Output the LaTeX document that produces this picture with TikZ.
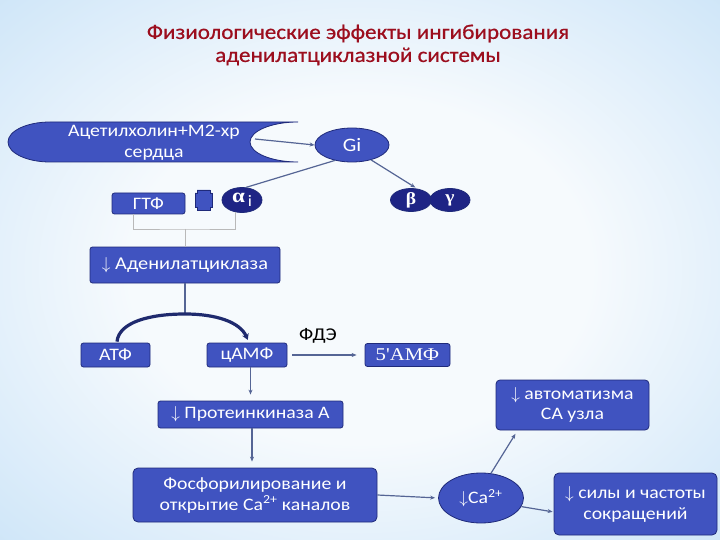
\documentclass[tikz,border=0pt]{standalone}
\usepackage{fontspec}
\setmainfont{Carlito}[FakeStretch=1.13]
\newfontfamily\titlef{Carlito}[FakeStretch=1.1, FakeBold=0.6]
\newfontfamily\serf{Liberation Serif}[FakeStretch=1.15]
\usetikzlibrary{shapes.geometric,arrows.meta,calc}
\definecolor{boxc}{HTML}{4053C0}
\definecolor{bordc}{HTML}{1F2A7A}
\definecolor{navyc}{HTML}{1E2485}
\definecolor{connc}{HTML}{556595}
\definecolor{arcc}{HTML}{1F2A6E}
\definecolor{titlec}{HTML}{9C0E1E}
\definecolor{bgc}{HTML}{F6FAFD}
\definecolor{bge}{HTML}{A3CFF3}
\pgfdeclareradialshading{bgshade}{\pgfpoint{0bp}{0bp}}{color(0bp)=(bgc);color(16bp)=(bgc);color(58bp)=(bge);color(75bp)=(bge)}
\tikzset{
  fillbox/.style={draw=bordc, fill=boxc, line width=0.8pt, rounded corners=2.5pt, inner sep=0pt,
    text=white, align=center, font=\fontsize{17.5}{20}\selectfont},
  ovalbox/.style={ellipse, draw=bordc, fill=boxc, line width=0.8pt, inner sep=0pt,
    text=white, align=center, font=\fontsize{17.5}{20}\selectfont},
  navyoval/.style={ellipse, draw=bordc, fill=navyc, line width=0.8pt, inner sep=0pt,
    text=white, align=center},
  txt/.style={inner sep=0pt, text=white, align=center, font=\fontsize{17.5}{21}\selectfont},
  conn/.style={draw=connc, line width=1.2pt, -{Stealth[length=5pt,width=4pt]}},
  plainconn/.style={draw=connc, line width=1.2pt},
  bracketline/.style={draw=gray!55, line width=0.9pt},
  thickarc/.style={draw=arcc, line width=3.2pt, -{Stealth[length=6pt,width=7pt]}},
}
\begin{document}
\begin{tikzpicture}[x=1pt,y=-1pt]
\useasboundingbox (0,0) rectangle (720,540);
\shade[shading=bgshade] (0,0) rectangle (720,540);

% title
\node[text=titlec, align=center, font=\titlef\fontsize{21}{23}\selectfont] (title) at (358,45)
  {Физиологические эффекты ингибирования\\аденилатциклазной системы};

% acetylcholine shape
\filldraw[fill=boxc, draw=bordc, line width=0.8pt]
  (50,122) -- (298,122) .. controls (271.5,122) and (250,131) .. (250,142)
  .. controls (250,153) and (271.5,162) .. (298,162) -- (50,162)
  .. controls (26.8,162) and (8,153) .. (8,142)
  .. controls (8,131) and (26.8,122) .. (50,122) -- cycle;
\node[txt] (ach) at (154,143) {Ацетилхолин+М2-хр\\сердца};
\coordinate (achR) at (255,139);

% G-protein
\node[ovalbox, minimum width=74pt, minimum height=34pt, font=\fontsize{19}{20}\selectfont] (gi) at (352,145) {Gi};
\node[navyoval, minimum width=40pt, minimum height=25pt, font=\fontsize{18}{20}\selectfont] (ai) at (242,200)
  {{\serf\bfseries\fontsize{20}{20}\selectfont α}\,\raisebox{-4pt}{\fontsize{16}{16}\selectfont i}};
\node[navyoval, minimum width=41pt, minimum height=23pt, font=\serf\bfseries\fontsize{17}{17}\selectfont] (b) at (411,200) {β};
\node[navyoval, minimum width=40pt, minimum height=23pt, font=\serf\bfseries\fontsize{17}{17}\selectfont] (g) at (450,200) {γ};
\node[fillbox, minimum width=73pt, minimum height=21pt] (gtf) at (148.5,203.5) {ГТФ};
\filldraw[fill=boxc, draw=bordc, line width=0.7pt]
  (197,190) -- (210,190) -- (210,193) -- (212,193) -- (212,207) -- (210,207) -- (210,210)
  -- (197,210) -- (197,207) -- (195,207) -- (195,193) -- (197,193) -- cycle;

% adenylate cyclase chain
\node[fillbox, minimum width=190pt, minimum height=36pt, font=\fontsize{18}{20}\selectfont] (adc) at (185,265) {$\downarrow$ Аденилатциклаза};
\node[fillbox, minimum width=69pt, minimum height=24pt] (atf) at (115.5,355) {АТФ};
\node[fillbox, minimum width=80pt, minimum height=24pt] (camp) at (247,355) {цАМФ};
\node[fillbox, minimum width=85pt, minimum height=23pt, font=\serf\fontsize{18}{20}\selectfont] (amp) at (407.5,355) {5'АМФ};
\node[inner sep=0pt, font=\fontsize{18}{20}\selectfont] (fde) at (318,336) {ФДЭ};
\node[fillbox, minimum width=185pt, minimum height=27pt] (pka) at (250.5,414.5) {$\downarrow$ Протеинкиназа А};
\node[fillbox, minimum width=244pt, minimum height=54pt, rounded corners=5pt, font=\fontsize{17.5}{21}\selectfont] (phos) at (255,495)
  {Фосфорилирование и\\открытие Ca\textsuperscript{2+} каналов};
\node[ovalbox, minimum width=85pt, minimum height=50pt] (ca) at (481,498) {$\downarrow$Ca\textsuperscript{2+}};
\node[fillbox, minimum width=153pt, minimum height=50pt, rounded corners=4pt] (avt) at (572.5,405)
  {$\downarrow$ автоматизма\\СА узла};
\node[fillbox, minimum width=163pt, minimum height=62pt, rounded corners=5pt, font=\fontsize{17.5}{21}\selectfont] (sil) at (635.5,504)
  {$\downarrow$ силы и частоты\\сокращений};

% bracket
\coordinate (brm) at (185,229);
\draw[bracketline] ($(gtf.south)+(-15.5,0)$) |- (brm) -| ($(ai.south)+(-7,-0.5)$);
\draw[bracketline] (brm) -- (adc.north);

% connectors
\draw[conn] (achR) -- (gi.west);
\draw[conn, shorten >=2pt] (gi.-38) -- (b.62);
\draw[plainconn] (gi.-138) -- (ai.72);
\coordinate (arcTop) at (185,314);
\draw[plainconn] (adc.south) -- (arcTop);
\draw[thickarc, shorten >=3pt] ($(atf.north)+(1.5,-1)$) .. controls (119,322) and (150,314) .. (arcTop)
  .. controls (216,314) and (240,322) .. ($(camp.north)+(2,0)$);
\draw[conn, shorten <=5pt, shorten >=8pt] (camp.east) -- (amp.west);
\draw[conn, shorten >=6pt] (pka.north |- camp.south) -- (pka.north);
\draw[conn, shorten >=6pt] ($(pka.south)+(1.5,0)$) -- ($(pka.south |- phos.north)+(1.5,0)$);
\draw[conn, shorten >=3pt] (phos.east) -- (ca.west);
\draw[conn, shorten >=4pt] (ca.68) -- ($(avt.south west)+(22,0)$);
\draw[conn, shorten >=1pt] (ca.-12) -- ($(sil.west)+(0,8)$);
\end{tikzpicture}
\end{document}
